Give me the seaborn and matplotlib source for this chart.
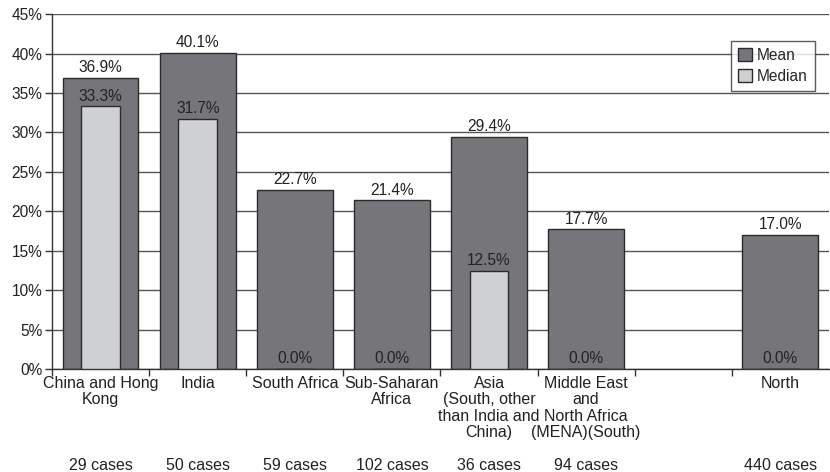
import pandas as pd
import numpy as np
import matplotlib
matplotlib.use("Agg")
import matplotlib.pyplot as plt
import seaborn as sns
from matplotlib.patches import Patch

# data
regions = ["China and Hong\nKong", "India", "South Africa", "Sub-Saharan\nAfrica",
           "Asia\n(South, other\nthan India and\nChina)",
           "Middle East\nand\nNorth Africa\n(MENA)(South)", " ", "North"]
cases = ["29 cases", "50 cases", "59 cases", "102 cases", "36 cases", "94 cases", "", "440 cases"]
mean_vals = [36.9, 40.1, 22.7, 21.4, 29.4, 17.7, np.nan, 17.0]
median_vals = [33.3, 31.7, 0.0, 0.0, 12.5, 0.0, np.nan, 0.0]

df = pd.DataFrame({"region": regions, "mean": mean_vals, "median": median_vals})

sns.set_style("white")
plt.rcParams["font.family"] = ["Liberation Sans", "DejaVu Sans"]

mean_col = "#76767a"
median_col = "#cfd0d2"
edge_col = "#2b2b2b"
txt_col = "#222222"
fs = 11.2

fig = plt.figure(figsize=(8.3, 4.72), dpi=100)
ax = fig.add_axes([0.0627, 0.218, 0.936, 0.752])

sns.barplot(data=df, x="region", y="mean", order=regions, color=mean_col,
            width=0.78, edgecolor=edge_col, linewidth=1.0, saturation=1, ax=ax, zorder=2)
sns.barplot(data=df, x="region", y="median", order=regions, color=median_col,
            width=0.40, edgecolor=edge_col, linewidth=1.0, saturation=1, ax=ax, zorder=3)

ax.set_ylim(0, 45)
ax.set_xlim(-0.5, len(regions) - 0.5)
ax.set_yticks(np.arange(0, 46, 5))
ax.set_yticklabels([f"{v}%" for v in range(0, 46, 5)], fontsize=fs, color=txt_col)
ax.yaxis.grid(True, color="#555555", linewidth=1.0, zorder=0)
ax.set_axisbelow(True)
ax.tick_params(axis="y", length=5, width=1, color="#333333", left=True, pad=2)

# x ticks at category borders, labels centred
ax.set_xticks(np.arange(len(regions)) - 0.5, minor=True)
ax.tick_params(axis="x", which="minor", length=5, width=1, color="#333333", bottom=True)
ax.tick_params(axis="x", which="major", length=0, pad=5)
ax.set_xticklabels(regions, fontsize=11.5, color=txt_col, linespacing=1.12)
ax.set_xlabel("")
ax.set_ylabel("")

for side in ["top", "right"]:
    ax.spines[side].set_visible(False)
for side in ["left", "bottom"]:
    ax.spines[side].set_color("#333333")
    ax.spines[side].set_linewidth(1.0)

# value labels
for i in range(len(regions)):
    if not np.isnan(mean_vals[i]):
        ax.annotate(f"{mean_vals[i]:.1f}%", (i, mean_vals[i]), xytext=(0, 2),
                    textcoords="offset points", ha="center", va="bottom",
                    fontsize=fs, color=txt_col, zorder=5)
    if not np.isnan(median_vals[i]):
        ax.annotate(f"{median_vals[i]:.1f}%", (i, median_vals[i]), xytext=(0, 2),
                    textcoords="offset points", ha="center", va="bottom",
                    fontsize=fs, color=txt_col, zorder=5)
    if cases[i]:
        ax.annotate(cases[i], (i, 0), xytext=(0, -96), textcoords="offset pixels",
                    ha="center", va="center", fontsize=11.5, color=txt_col,
                    annotation_clip=False)

handles = [Patch(facecolor=mean_col, edgecolor=edge_col, label="Mean"),
           Patch(facecolor=median_col, edgecolor=edge_col, label="Median")]
leg = ax.legend(handles=handles, loc="upper left", bbox_to_anchor=(0.874, 0.924),
                fontsize=fs, frameon=True, fancybox=False, handlelength=0.9,
                handleheight=0.9, handletextpad=0.3, borderpad=0.45,
                labelspacing=0.35, borderaxespad=0)
leg.get_frame().set_edgecolor("#333333")
leg.get_frame().set_linewidth(1.0)

fig.savefig("out.png", dpi=100)
